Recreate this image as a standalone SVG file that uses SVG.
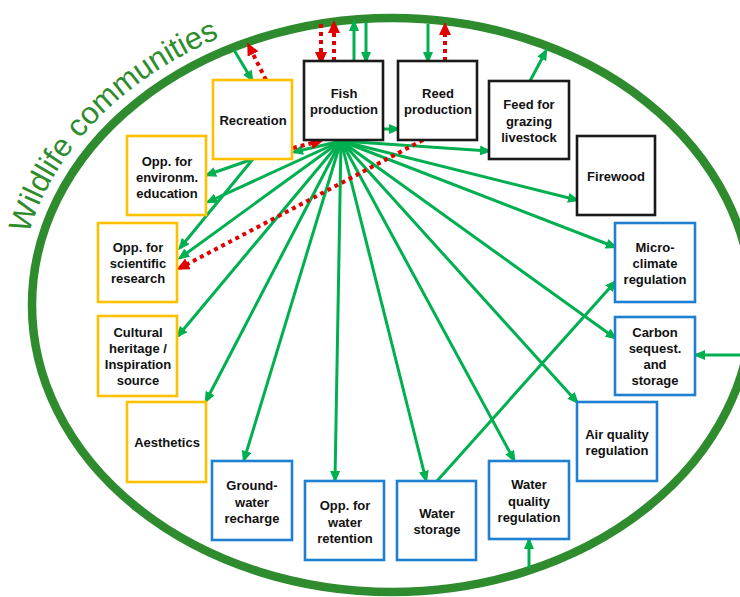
<svg xmlns="http://www.w3.org/2000/svg" width="740" height="597" viewBox="0 0 740 597">
<defs>
<style>
.box{fill:#fff;stroke-width:2.6}
.o{stroke:#FFC000}
.b{stroke:#1F7FD0}
.k{stroke:#1a1a1a}
.lbl{font-family:"Liberation Sans",Arial,sans-serif;font-weight:bold;font-size:13px;fill:#111;text-anchor:middle}
.g{stroke:#00B050;stroke-width:3;fill:none;marker-end:url(#ga)}
.r{stroke:#E00000;stroke-width:4;stroke-dasharray:4 4;fill:none;marker-end:url(#ra)}
</style>
<marker id="ga" markerUnits="userSpaceOnUse" markerWidth="12" markerHeight="10" refX="9" refY="5" orient="auto">
<path d="M0,0 L12,5 L0,10 z" fill="#00B050"/>
</marker>
<marker id="ra" markerUnits="userSpaceOnUse" markerWidth="13" markerHeight="12" refX="9" refY="6" orient="auto">
<path d="M0,0 L13,6 L0,12 z" fill="#E00000"/>
</marker>
<path id="arc" d="M18,305 A374,301 0 0,1 392,4"/>
</defs>
<rect width="740" height="597" fill="#fff"/>
<g id="wildlife-communities">
<ellipse cx="392" cy="305" rx="360" ry="287" fill="none" stroke="#2E8B2E" stroke-width="8.5"/>
<text font-family="'Liberation Sans',Arial,sans-serif" font-size="31" fill="#2E8B2E"><textPath href="#arc" startOffset="72">Wildlife communities</textPath></text>
</g>
<g id="connectors">
<line class="g" x1="341" y1="141" x2="294" y2="152"/>
<line class="g" x1="341" y1="141" x2="208" y2="202"/>
<line class="g" x1="341" y1="141" x2="180" y2="258"/>
<line class="g" x1="341" y1="141" x2="178" y2="336"/>
<line class="g" x1="341" y1="141" x2="206" y2="401"/>
<line class="g" x1="341" y1="141" x2="244" y2="460"/>
<line class="g" x1="341" y1="141" x2="335" y2="480"/>
<line class="g" x1="341" y1="141" x2="426" y2="480"/>
<line class="g" x1="341" y1="141" x2="514" y2="460"/>
<line class="g" x1="341" y1="141" x2="577" y2="402"/>
<line class="g" x1="341" y1="141" x2="615" y2="338"/>
<line class="g" x1="341" y1="141" x2="615" y2="247"/>
<line class="g" x1="341" y1="141" x2="577" y2="200"/>
<line class="g" x1="341" y1="141" x2="489" y2="151"/>
<line class="g" x1="383" y1="129" x2="398" y2="129"/>
<line class="g" x1="253" y1="159" x2="207" y2="175"/>
<line class="g" x1="253" y1="159" x2="180" y2="248"/>
<line class="g" x1="437" y1="481" x2="615" y2="282"/>
<line class="g" x1="234" y1="50" x2="252" y2="80"/>
<line class="g" x1="354" y1="61" x2="354" y2="22"/>
<line class="g" x1="366" y1="22" x2="366" y2="61"/>
<line class="g" x1="428" y1="24" x2="428" y2="61"/>
<line class="g" x1="530" y1="81" x2="546" y2="51"/>
<line class="g" x1="740" y1="355" x2="696" y2="355"/>
<line class="g" x1="529" y1="568" x2="529" y2="540"/>
<line class="r" x1="293" y1="148" x2="320" y2="141"/>
<line class="r" x1="423" y1="140" x2="180" y2="268"/>
<line class="r" x1="266" y1="80" x2="249" y2="46"/>
<line class="r" x1="321" y1="24" x2="321" y2="61"/>
<line class="r" x1="334" y1="61" x2="334" y2="24"/>
<line class="r" x1="445" y1="61" x2="445" y2="26"/>
</g>
<g id="recreation"><rect class="box o" x="213" y="80" width="79" height="79"/><text class="lbl" x="253" y="125">Recreation</text></g>
<g id="fish-production"><rect class="box k" x="304" y="61" width="79" height="79"/><text class="lbl"><tspan x="344" y="98">Fish</tspan><tspan x="344" y="114">production</tspan></text></g>
<g id="reed-production"><rect class="box k" x="398" y="61" width="79" height="79"/><text class="lbl"><tspan x="438" y="98">Reed</tspan><tspan x="438" y="114">production</tspan></text></g>
<g id="feed-for-grazing-livestock"><rect class="box k" x="489" y="81" width="80" height="78"/><text class="lbl"><tspan x="529" y="109">Feed for</tspan><tspan x="529" y="126">grazing</tspan><tspan x="529" y="142">livestock</tspan></text></g>
<g id="firewood"><rect class="box k" x="577" y="136" width="78" height="79"/><text class="lbl" x="616" y="181">Firewood</text></g>
<g id="micro-climate-regulation"><rect class="box b" x="615" y="223" width="80" height="79"/><text class="lbl"><tspan x="655" y="252">Micro-</tspan><tspan x="655" y="268">climate</tspan><tspan x="655" y="284">regulation</tspan></text></g>
<g id="carbon-sequestration"><rect class="box b" x="615" y="317" width="80" height="78"/><text class="lbl"><tspan x="655" y="337">Carbon</tspan><tspan x="655" y="353">sequest.</tspan><tspan x="655" y="369">and</tspan><tspan x="655" y="385">storage</tspan></text></g>
<g id="air-quality-regulation"><rect class="box b" x="577" y="402" width="80" height="79"/><text class="lbl"><tspan x="617" y="439">Air quality</tspan><tspan x="617" y="455">regulation</tspan></text></g>
<g id="water-quality-regulation"><rect class="box b" x="489" y="461" width="80" height="78"/><text class="lbl"><tspan x="529" y="489">Water</tspan><tspan x="529" y="506">quality</tspan><tspan x="529" y="522">regulation</tspan></text></g>
<g id="water-storage"><rect class="box b" x="397" y="481" width="79" height="79"/><text class="lbl"><tspan x="437" y="518">Water</tspan><tspan x="437" y="534">storage</tspan></text></g>
<g id="water-retention"><rect class="box b" x="305" y="481" width="79" height="79"/><text class="lbl"><tspan x="345" y="510">Opp. for</tspan><tspan x="345" y="527">water</tspan><tspan x="345" y="543">retention</tspan></text></g>
<g id="groundwater-recharge"><rect class="box b" x="212" y="461" width="80" height="79"/><text class="lbl"><tspan x="252" y="490">Ground-</tspan><tspan x="252" y="507">water</tspan><tspan x="252" y="523">recharge</tspan></text></g>
<g id="aesthetics"><rect class="box o" x="127" y="402" width="79" height="80"/><text class="lbl" x="167" y="447">Aesthetics</text></g>
<g id="cultural-heritage"><rect class="box o" x="98" y="316" width="79" height="80"/><text class="lbl"><tspan x="138" y="337">Cultural</tspan><tspan x="138" y="353">heritage /</tspan><tspan x="138" y="369">Inspiration</tspan><tspan x="138" y="385">source</tspan></text></g>
<g id="scientific-research"><rect class="box o" x="98" y="223" width="79" height="79"/><text class="lbl"><tspan x="138" y="252">Opp. for</tspan><tspan x="138" y="268">scientific</tspan><tspan x="138" y="283">research</tspan></text></g>
<g id="environmental-education"><rect class="box o" x="127" y="136" width="79" height="79"/><text class="lbl"><tspan x="167" y="166">Opp. for</tspan><tspan x="167" y="182">environm.</tspan><tspan x="167" y="198">education</tspan></text></g>
</svg>
